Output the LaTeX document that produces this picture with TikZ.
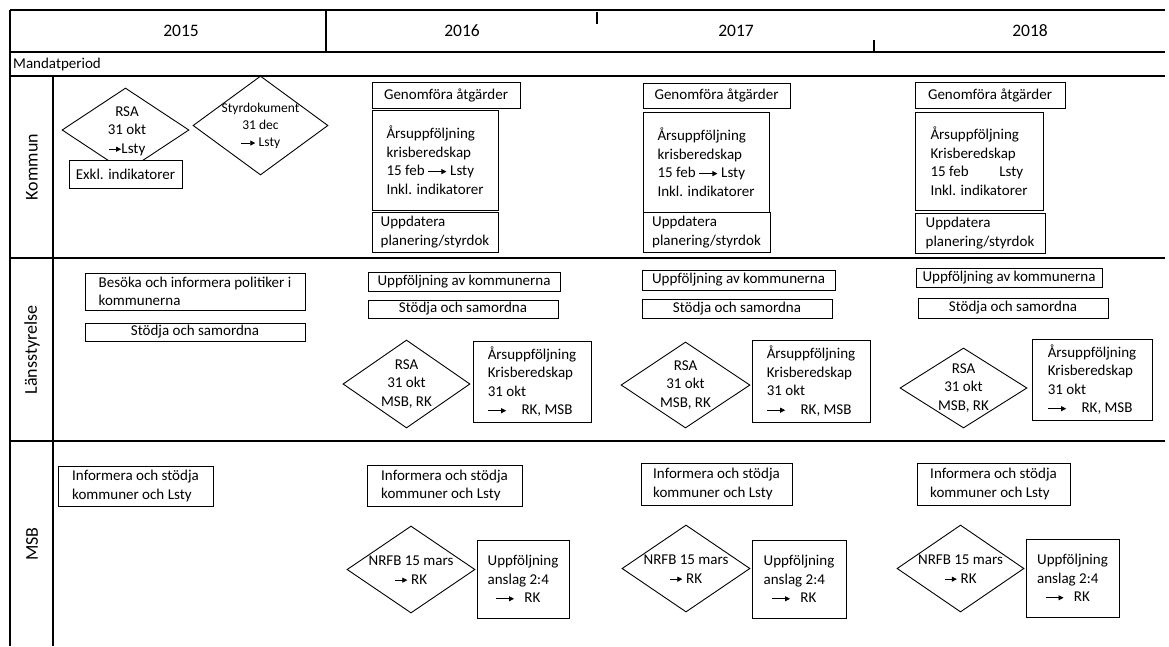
\documentclass[tikz,border=0pt]{standalone}
\usepackage{fontspec}
\setmainfont{Carlito}
\usetikzlibrary{arrows.meta,shapes.geometric}

\newcommand{\brod}{\fontsize{15}{18.5}\selectfont}
\newcommand{\pil}[1][18pt]{\tikz[baseline=-0.55ex]\draw[line width=0.8pt,-{Triangle[length=5pt,width=5pt]}] (0,0) -- (#1,0);}

\begin{document}
\begin{tikzpicture}[x=1pt,y=-1pt,
  gitter/.style={line width=1.4pt},
  ruta/.style={draw,line width=0.9pt,inner sep=0pt,align=left,fill=white,font=\brod},
  romb/.style={diamond,draw,line width=0.9pt,inner sep=0pt},
  rtxt/.style={align=center,inner sep=0pt,font=\brod},
  bana/.style={rotate=90,font=\fontsize{18}{20}\selectfont}]
 \useasboundingbox[fill=white] (0,0) rectangle (1169,646);
 % rutnat
 \draw[gitter] (10,10) -- (1165,10);
 \draw[gitter] (10,52) -- (1165,52);
 \draw[gitter] (10,76) -- (1165,76);
 \draw[gitter] (10,258) -- (1165,258);
 \draw[gitter] (10,441) -- (1165,441);
 \draw[gitter] (10,10) -- (10,646);
 \draw[gitter] (53,76) -- (53,646);
 \draw[gitter] (326,10) -- (326,52);
 \draw[gitter] (597,12) -- (597,24);
 \draw[gitter] (874,40) -- (874,52);
 % ar
 \node[font=\fontsize{17.5}{20}\selectfont] (y15) at (181,31) {2015};
 \node[font=\fontsize{17.5}{20}\selectfont] (y16) at (462,31) {2016};
 \node[font=\fontsize{17.5}{20}\selectfont] (y17) at (736,31) {2017};
 \node[font=\fontsize{17.5}{20}\selectfont] (y18) at (1030,31) {2018};
 \node[anchor=west,inner sep=0pt,font=\fontsize{15}{17}\selectfont] (mandat) at (13,64) {Mandatperiod};
 \node[bana] (kommun) at (32,167) {Kommun};
 \node[bana] (lst) at (32,350) {Länsstyrelse};
 \node[bana] (msb) at (32,544) {MSB};

 % Kommun
 \node[romb,minimum width=127,minimum height=84] (rsaK) at (125.5,130) {};
 \node[rtxt] (rsaKt) at (127,131) {RSA\\31 okt\\\pil[12pt]Lsty};
 \node[ruta,minimum width=113,minimum height=28] (exkl) at (125.5,174) {Exkl. indikatorer};
 \node[romb,minimum width=135,minimum height=99] (styr) at (260.5,125.5) {};
 \node[rtxt,font=\fontsize{13.5}{17}\selectfont] (styrt) at (260.5,126) {Styrdokument\\31 dec\\\pil[14pt] Lsty};

 \node[ruta,minimum width=148,minimum height=26] (gen16) at (446,95) {Genomföra åtgärder};
 \node[ruta,minimum width=126,minimum height=100] (ars16) at (435,160) {Årsuppföljning\\krisberedskap\\15 feb \pil\ Lsty\\Inkl. indikatorer};
 \node[ruta,minimum width=126,minimum height=40] (upd16) at (435,232) {Uppdatera\\planering/styrdok};

 \node[ruta,minimum width=147,minimum height=25] (gen17) at (716.5,95.5) {Genomföra åtgärder};
 \node[ruta,minimum width=126,minimum height=100] (ars17) at (706,162) {Årsuppföljning\\krisberedskap\\15 feb \pil\ Lsty\\Inkl. indikatorer};
 \node[ruta,minimum width=127,minimum height=40] (upd17) at (706.5,232) {Uppdatera\\planering/styrdok};

 \node[ruta,minimum width=150,minimum height=26] (gen18) at (990,95) {Genomföra åtgärder};
 \node[ruta,minimum width=128,minimum height=98] (ars18) at (979,161) {Årsuppföljning\\Krisberedskap\\15 feb \hspace{24pt} Lsty\\Inkl. indikatorer};
 \node[ruta,minimum width=130,minimum height=40] (upd18) at (980,233) {Uppdatera\\planering/styrdok};

 % Lansstyrelse
 \node[ruta,minimum width=220,minimum height=37] (besok) at (195,291.5) {Besöka och informera politiker i\\kommunerna};
 \node[ruta,minimum width=220,minimum height=18] (stod15) at (195,332) {Stödja och samordna};

 \node[ruta,minimum width=192,minimum height=19] (uppf16) at (464,281.5) {Uppföljning av kommunerna};
 \node[ruta,minimum width=190,minimum height=18] (stod16) at (463,309) {Stödja och samordna};
 \node[romb,minimum width=127,minimum height=88] (rsaL16) at (406.5,384) {};
 \node[rtxt] (rsaL16t) at (rsaL16) {RSA\\31 okt\\MSB, RK};
 \node[ruta,minimum width=118,minimum height=81] (arsL16) at (532,381.5) {Årsuppföljning\\Krisberedskap\\31 okt\\\pil\quad RK, MSB};

 \node[ruta,minimum width=193,minimum height=20] (uppf17) at (738.5,280) {Uppföljning av kommunerna};
 \node[ruta,minimum width=190,minimum height=19] (stod17) at (737,308.5) {Stödja och samordna};
 \node[romb,minimum width=129,minimum height=86] (rsaL17) at (685.5,385) {};
 \node[rtxt] (rsaL17t) at (rsaL17) {RSA\\31 okt\\MSB, RK};
 \node[ruta,minimum width=118,minimum height=82] (arsL17) at (811,381) {Årsuppföljning\\Krisberedskap\\31 okt\\\pil\quad RK, MSB};

 \node[ruta,minimum width=186,minimum height=19] (uppf18) at (1009,277.5) {Uppföljning av kommunerna};
 \node[ruta,minimum width=190,minimum height=20] (stod18) at (1013,308) {Stödja och samordna};
 \node[romb,minimum width=127,minimum height=80] (rsaL18) at (963.5,388) {};
 \node[rtxt] (rsaL18t) at (rsaL18) {RSA\\31 okt\\MSB, RK};
 \node[ruta,minimum width=120,minimum height=81] (arsL18) at (1092,379.5) {Årsuppföljning\\Krisberedskap\\31 okt\\\pil\quad RK, MSB};

 % MSB
 \node[ruta,minimum width=155,minimum height=40] (inf15) at (135.5,486) {Informera och stödja\\kommuner och Lsty};

 \node[ruta,minimum width=155,minimum height=41] (inf16) at (444.5,485.5) {Informera och stödja\\kommuner och Lsty};
 \node[romb,minimum width=128,minimum height=87] (nrfb16) at (411,569.5) {};
 \node[rtxt] (nrfb16t) at (411,570) {NRFB 15 mars\\\pil[12pt] RK};
 \node[ruta,minimum width=92,minimum height=78] (ans16) at (523,579) {Uppföljning\\anslag 2:4\\\hspace{8pt}\pil\hspace{10pt}RK};

 \node[ruta,minimum width=151,minimum height=42] (inf17) at (716.5,484) {Informera och stödja\\kommuner och Lsty};
 \node[romb,minimum width=128,minimum height=87] (nrfb17) at (686,568.5) {};
 \node[rtxt] (nrfb17t) at (686,569) {NRFB 15 mars\\\pil[12pt] RK};
 \node[ruta,minimum width=94,minimum height=78] (ans17) at (799,579) {Uppföljning\\anslag 2:4\\\hspace{8pt}\pil\hspace{10pt}RK};

 \node[ruta,minimum width=153,minimum height=42] (inf18) at (993.5,484) {Informera och stödja\\kommuner och Lsty};
 \node[romb,minimum width=127,minimum height=87] (nrfb18) at (960.5,568.5) {};
 \node[rtxt] (nrfb18t) at (960.5,569) {NRFB 15 mars\\\pil[12pt] RK};
 \node[ruta,minimum width=93,minimum height=78] (ans18) at (1072.5,578) {Uppföljning\\anslag 2:4\\\hspace{8pt}\pil\hspace{10pt}RK};
\end{tikzpicture}
\end{document}
